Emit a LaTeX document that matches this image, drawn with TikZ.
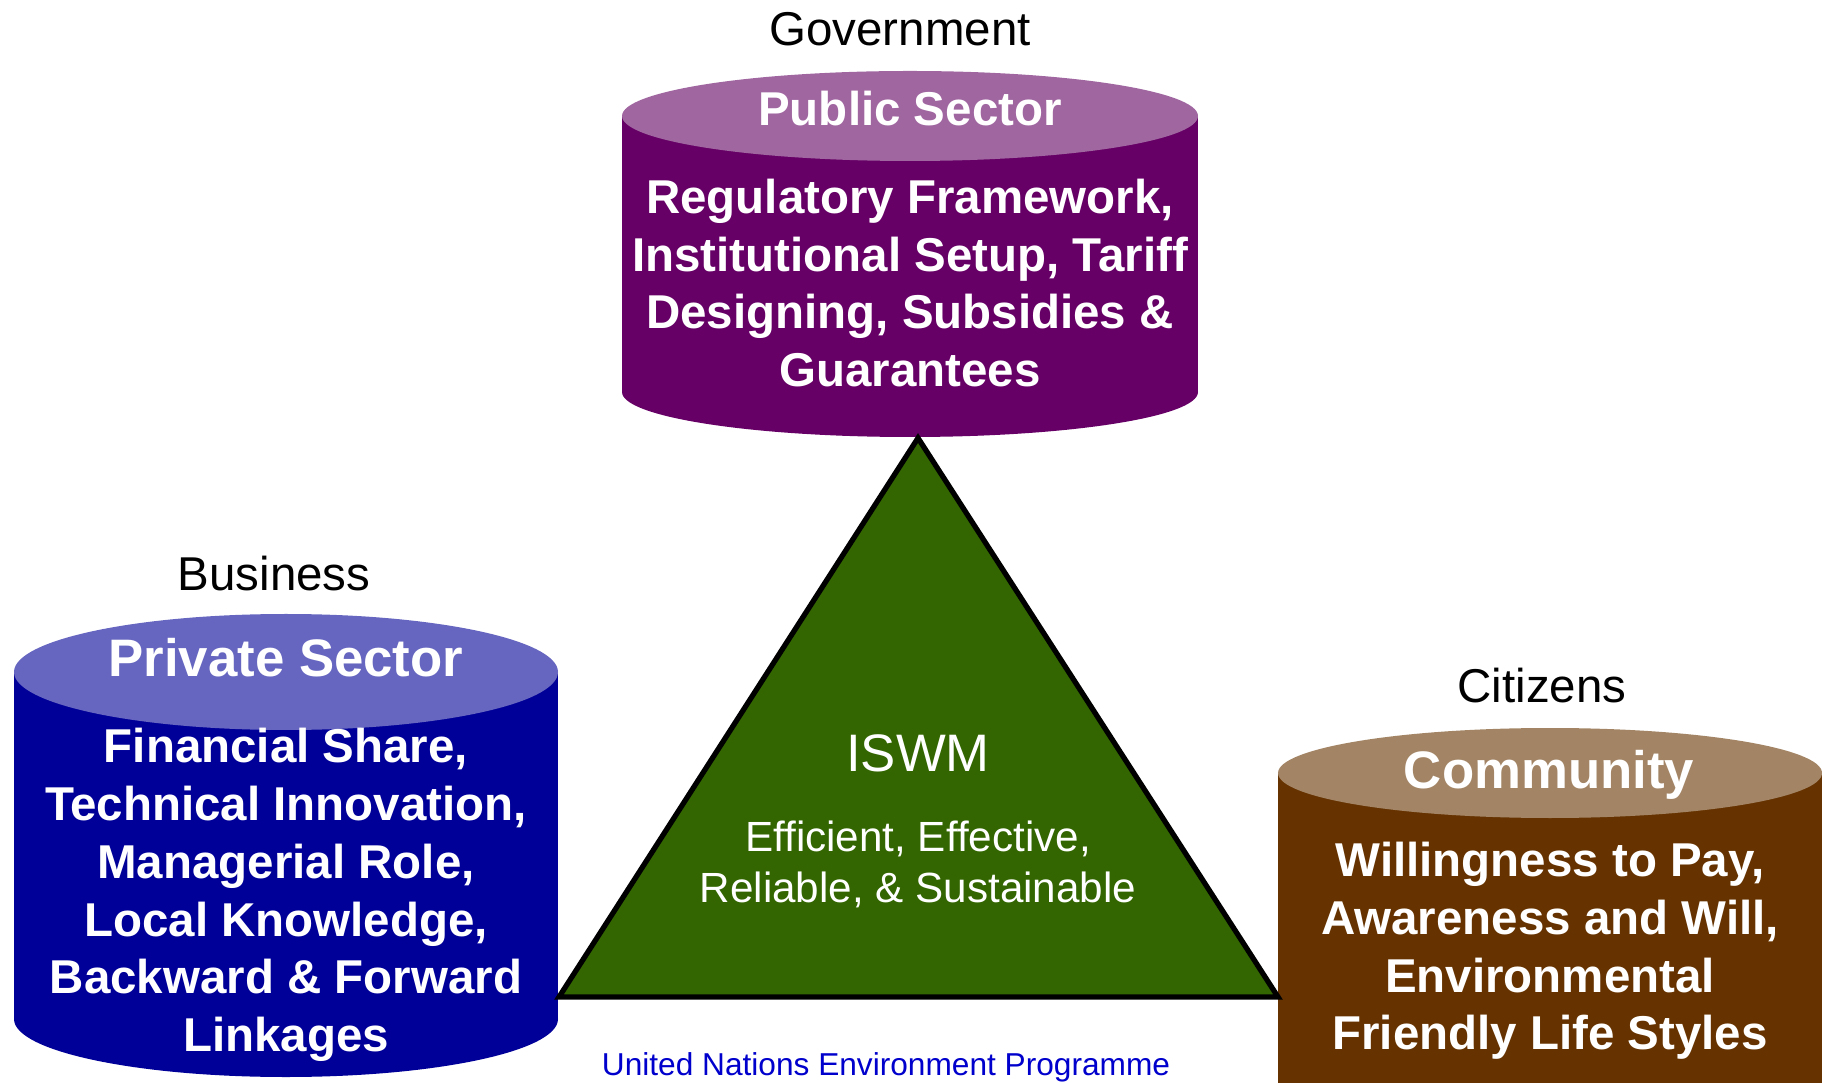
\documentclass[tikz,border=0pt]{standalone}
\usepackage{fontspec}
\setmainfont{Liberation Sans}

\definecolor{pubtop}{HTML}{A066A0}
\definecolor{pubbody}{HTML}{660066}
\definecolor{pritop}{HTML}{6666C0}
\definecolor{pribody}{HTML}{000099}
\definecolor{comtop}{HTML}{A38566}
\definecolor{combody}{HTML}{663300}
\definecolor{iswmgreen}{HTML}{336600}
\definecolor{unblue}{HTML}{0000CC}

\begin{document}
\begin{tikzpicture}[x=0.01cm, y=-0.01cm,
    sidelabel/.style={font=\fontsize{13.5}{16}\selectfont},
    drumhead/.style={text=white, font=\bfseries\fontsize{15}{18}\selectfont},
    drumtext/.style={text=white, align=center, font=\bfseries\fontsize{13.5}{16.4}\selectfont}]

      \useasboundingbox (0,0) rectangle (1822,1083);

      % Define the three drums: centre x / half width / lid y / lid radius / base y / base radius / colours
      \foreach \cx/\hw/\ty/\tr/\by/\br/\lid/\body in {910/288/116/45/392/45/pubtop/pubbody, 286/272/672/58/1019/58/pritop/pribody, 1550/272/773/45/1130/45/comtop/combody} {
          % Body of the drum
          \fill[\body] (\cx-\hw,\ty) rectangle (\cx+\hw,\by);
          \fill[\body] (\cx,\by) ellipse[x radius=\hw, y radius=\br];
          % Lid of the drum
          \fill[\lid] (\cx,\ty) ellipse[x radius=\hw, y radius=\tr];
      }

      % Triangle in the middle
      \coordinate (apex) at (918,438);
      \coordinate (baseL) at (559,997);
      \coordinate (baseR) at (1278,997);
      \draw[line width=1.5pt, fill=iswmgreen] (apex) -- (baseL) -- (baseR) -- cycle;

      % Public sector
      \node[sidelabel] (gov) at (900,29) {Government};
      \node[drumhead, font=\bfseries\fontsize{13.5}{16}\selectfont] (pubhead) at (910,109) {Public Sector};
      \node[drumtext] (pubtext) at (910,283) {Regulatory Framework,\\Institutional Setup, Tariff\\Designing, Subsidies \&\\Guarantees};

      % Private sector
      \node[sidelabel] (business) at (274,574) {Business};
      \node[drumhead] (prihead) at (286,658) {Private Sector};
      \node[drumtext] (pritext) at (286,895) {Financial Share,\\Technical Innovation,\\Managerial Role,\\Local Knowledge,\\Backward \& Forward\\Linkages};

      % Community
      \node[sidelabel] (citizens) at (1542,686) {Citizens};
      \node[drumhead] (comhead) at (1549,775) {Community};
      \node[drumtext] (comtext) at (1550,951) {Willingness to Pay,\\Awareness and Will,\\Environmental\\Friendly Life Styles};

      % Centre text
      \node[text=white, font=\fontsize{15}{18}\selectfont] (iswm) at (918,753) {ISWM};
      \node[text=white, align=center, font=\fontsize{12}{14.5}\selectfont] (iswmtext) at (918,864) {Efficient, Effective,\\Reliable, \& Sustainable};

      % Footer
      \node[text=unblue, anchor=base, font=\fontsize{9}{11}\selectfont] (unep) at (886,1075) {United Nations Environment Programme};

\end{tikzpicture}
\end{document}
